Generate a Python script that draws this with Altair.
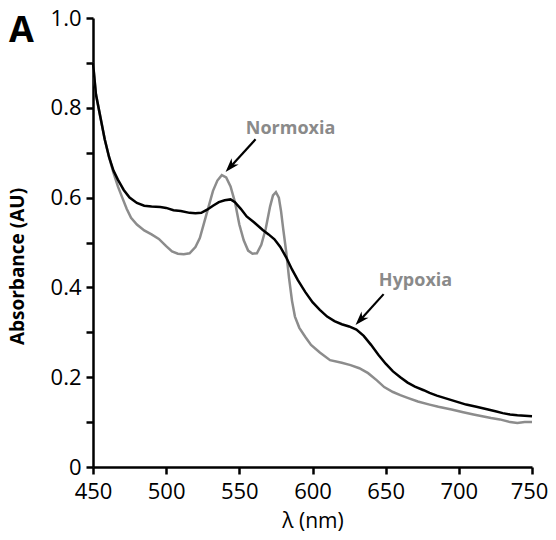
import altair as alt
import pandas as pd

# Hypoxia (black) spectrum
wl_hyp = [450, 452, 455, 458, 461, 464, 467, 471, 475, 480, 485, 490, 496, 500, 505, 510,
          516, 520, 524, 528, 532, 536, 540, 544, 547, 551, 555, 560, 566, 570, 574, 578,
          582, 586, 590, 595, 600, 605, 610, 615, 620, 625, 630, 635, 640, 645, 650, 655,
          660, 665, 670, 676, 680, 685, 690, 695, 700, 705, 712, 720, 725, 730, 735, 740,
          745, 750]
abs_hyp = [0.90, 0.83, 0.78, 0.73, 0.69, 0.66, 0.64, 0.617, 0.600, 0.588, 0.582, 0.580,
           0.579, 0.577, 0.572, 0.570, 0.566, 0.565, 0.566, 0.573, 0.582, 0.590, 0.594,
           0.596, 0.590, 0.575, 0.558, 0.545, 0.528, 0.518, 0.507, 0.490, 0.467, 0.440,
           0.416, 0.390, 0.367, 0.350, 0.335, 0.325, 0.318, 0.313, 0.306, 0.292, 0.272,
           0.250, 0.230, 0.213, 0.200, 0.188, 0.179, 0.171, 0.165, 0.159, 0.154, 0.149,
           0.144, 0.139, 0.134, 0.128, 0.124, 0.120, 0.117, 0.115, 0.114, 0.113]

# Normoxia (grey) spectrum
wl_norm = [450, 452, 455, 458, 461, 464, 467, 470, 473, 476, 480, 485, 490, 495, 500, 504,
           508, 512, 516, 520, 523, 526, 529, 532, 535, 538, 541, 544, 547, 550, 553, 556,
           559, 562, 565, 568, 571, 573, 575, 577, 578.5, 580, 582, 584, 586, 588, 591, 595,
           599, 605, 612, 620, 626, 632, 638, 644, 649, 655, 660, 665, 672, 680, 686, 695,
           703, 710, 716, 722, 728, 735, 740, 745, 750]
abs_norm = [0.90, 0.83, 0.78, 0.73, 0.69, 0.655, 0.625, 0.600, 0.575, 0.555, 0.540, 0.527,
            0.518, 0.508, 0.492, 0.480, 0.475, 0.474, 0.476, 0.490, 0.510, 0.545, 0.580,
            0.615, 0.638, 0.650, 0.645, 0.625, 0.590, 0.540, 0.505, 0.482, 0.475, 0.476,
            0.495, 0.530, 0.580, 0.605, 0.612, 0.600, 0.570, 0.530, 0.480, 0.420, 0.370,
            0.335, 0.310, 0.290, 0.272, 0.255, 0.238, 0.232, 0.227, 0.220, 0.209, 0.193,
            0.178, 0.167, 0.160, 0.154, 0.146, 0.139, 0.134, 0.128, 0.122, 0.117, 0.113,
            0.109, 0.106, 0.100, 0.098, 0.100, 0.100]

series = ["Normoxia", "Hypoxia"]
colors = ["#8c8c8c", "#000000"]

# annotation labels and arrows (data coordinates)
ann_text = ["Normoxia", "Hypoxia"]
ann_tx = [585, 670.4]
ann_ty = [0.753, 0.415]
arr_x0 = [561.1, 648.6]
arr_y0 = [0.730, 0.385]
arr_x1 = [544.3, 633.1]
arr_y1 = [0.670, 0.329]
tip_x = [540.6, 629.4]
tip_y = [0.657, 0.316]
tip_angle = [222, 222]

x_ticks = list(range(450, 751, 25))
y_ticks = [0, 0.1, 0.2, 0.3, 0.4, 0.5, 0.6, 0.7, 0.8, 0.9, 1.0]

df = pd.concat([
    pd.DataFrame({"wl": wl_norm, "abs": abs_norm, "series": "Normoxia", "ord": 0}),
    pd.DataFrame({"wl": wl_hyp, "abs": abs_hyp, "series": "Hypoxia", "ord": 1}),
])
ann = pd.DataFrame({"text": ann_text, "x": ann_tx, "y": ann_ty,
                    "x0": arr_x0, "y0": arr_y0, "x1": arr_x1, "y1": arr_y1,
                    "tx": tip_x, "ty": tip_y, "ang": tip_angle})

FONT = "Open Sans"
xscale = alt.Scale(domain=[450, 750], nice=False, zero=False)
yscale = alt.Scale(domain=[0, 1.0], nice=False)

x_axis = alt.Axis(values=x_ticks, labelExpr="datum.value % 50 == 0 ? datum.label : ''",
                  title="λ (nm)", titleFontWeight="normal", titleFontSize=21,
                  titleY=54, titleBaseline="middle", labelPadding=7,
                  labelOffset={"condition": {"test": "datum.value == 750", "value": -3}, "value": 0})
y_axis = alt.Axis(values=y_ticks,
                  labelExpr="datum.value == 0 ? '0' : (round(datum.value*10) % 2 == 0 ? format(datum.value, '.1f') : '')",
                  title="Absorbance (AU)", titleFontWeight="bold", titleFontSize=19,
                  titleX=-76, titleY=248, titleAngle=-90, titleBaseline="middle",
                  titleAlign="center", labelPadding=5)

lines = alt.Chart(df).mark_line(strokeWidth=2.5, interpolate="linear").encode(
    x=alt.X("wl:Q", scale=xscale, axis=x_axis),
    y=alt.Y("abs:Q", scale=yscale, axis=y_axis),
    color=alt.Color("series:N", scale=alt.Scale(domain=series, range=colors), legend=None),
    order=alt.Order("ord:Q"),
    detail="series:N",
)

arrows = alt.Chart(ann).mark_rule(color="black", strokeWidth=2.2).encode(
    x="x0:Q", y="y0:Q", x2="x1:Q", y2="y1:Q")

heads = alt.Chart(ann).mark_point(
    shape="M0,0 L0.8,2.4 L0,1.7 L-0.8,2.4 Z", filled=True, color="black",
    size=140, opacity=1, strokeWidth=0).encode(
    x="tx:Q", y="ty:Q", angle=alt.Angle("ang:Q", scale=None))

labels = alt.Chart(ann).mark_text(font=FONT, fontWeight="bold", fontSize=18,
                                  color="#8a8a8a", baseline="middle", align="center").encode(
    x="x:Q", y="y:Q", text="text:N")

panel = alt.Chart(pd.DataFrame({"t": ["A"]})).mark_text(
    font=FONT, fontWeight="bold", fontSize=36, color="black",
    align="center", baseline="alphabetic").encode(
    x=alt.value(-71.5), y=alt.value(24), text="t:N")

chart = alt.layer(lines, arrows, heads, labels, panel).properties(
    width=439, height=449,
    autosize=alt.AutoSizeParams(type="none"),
    padding={"left": 85, "top": 10, "right": 16, "bottom": 65},
).configure_view(stroke=None).configure_axis(
    grid=False, domainColor="black", domainWidth=2.5, tickColor="black",
    tickWidth=2.5, tickSize=7, labelFont=FONT, labelFontSize=22, labelColor="black",
    titleFont=FONT, titleColor="black", labelFlush=False, labelOverlap=False,
)

chart.save("out.html", embed_options={"renderer": "svg", "actions": False})
